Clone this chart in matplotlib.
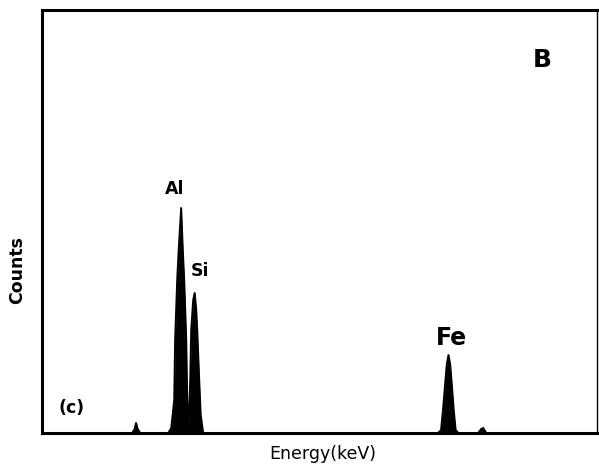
import matplotlib
matplotlib.use("Agg")
import matplotlib.pyplot as plt
import numpy as np

# Spectrum outline (energy in keV, counts in arbitrary units)
energy = [-1.04, 0.60, 0.645, 0.67, 0.70, 0.745,
          1.255, 1.31, 1.364, 1.38, 1.418, 1.445, 1.49,
          1.52, 1.545, 1.582, 1.60, 1.618, 1.627,
          1.636, 1.655, 1.673, 1.709, 1.736, 1.764, 1.782, 1.818, 1.845, 1.89,
          6.16, 6.215, 6.25, 6.28, 6.318, 6.35, 6.382, 6.418, 6.445, 6.48, 6.53,
          6.89, 6.945, 6.98, 7.015, 7.035, 9.05]
counts = [0, 0, 20, 50, 20, 0,
          0, 25, 165, 465, 765, 915, 1125,
          915, 765, 465, 165, 40, 30,
          115, 265, 515, 665, 700, 615, 515, 265, 90, 0,
          0, 15, 115, 215, 340, 390, 340, 215, 115, 15, 0,
          0, 20, 25, 10, 0, 0]

labels = ["Al", "Si", "Fe"]
label_energy = [1.365, 1.835, 6.40]
label_counts = [1220, 810, 475]

fig = plt.figure(figsize=(5.99, 4.76), dpi=100)
ax = fig.add_axes([42 / 599, 1 - 433 / 476, 555 / 599, 423 / 476])
ax.fill_between(energy, counts, 0, color="black", linewidth=0)
ax.plot(energy, counts, color="black", linewidth=1.4)
ax.set_xlim(-1.04, 9.05)
ax.set_ylim(0, 2115)
ax.set_xticks([])
ax.set_yticks([])
for side in ["left", "bottom", "top"]:
    ax.spines[side].set_linewidth(2.2)
ax.spines["right"].set_linewidth(1.0)

ax.text(label_energy[0], label_counts[0], labels[0], ha="center", va="center",
        fontsize=12.5, fontweight="bold")
ax.text(label_energy[1], label_counts[1], labels[1], ha="center", va="center",
        fontsize=12.5, fontweight="bold")
ax.text(label_energy[2], label_counts[2], labels[2], ha="center", va="center",
        fontsize=17, fontweight="bold")
ax.text(8.05, 1865, "B", ha="center", va="center", fontsize=18, fontweight="bold")
ax.text(-0.5, 125, "(c)", ha="center", va="center", fontsize=12.5, fontweight="semibold")

fig.text(323 / 599, 1 - 454 / 476, "Energy(keV)", ha="center", va="center", fontsize=12.5)
fig.text(17 / 599, 1 - 270 / 476, "Counts", ha="center", va="center", fontsize=12.5,
         rotation=90, fontweight="bold")

fig.savefig("out.png", dpi=100)
